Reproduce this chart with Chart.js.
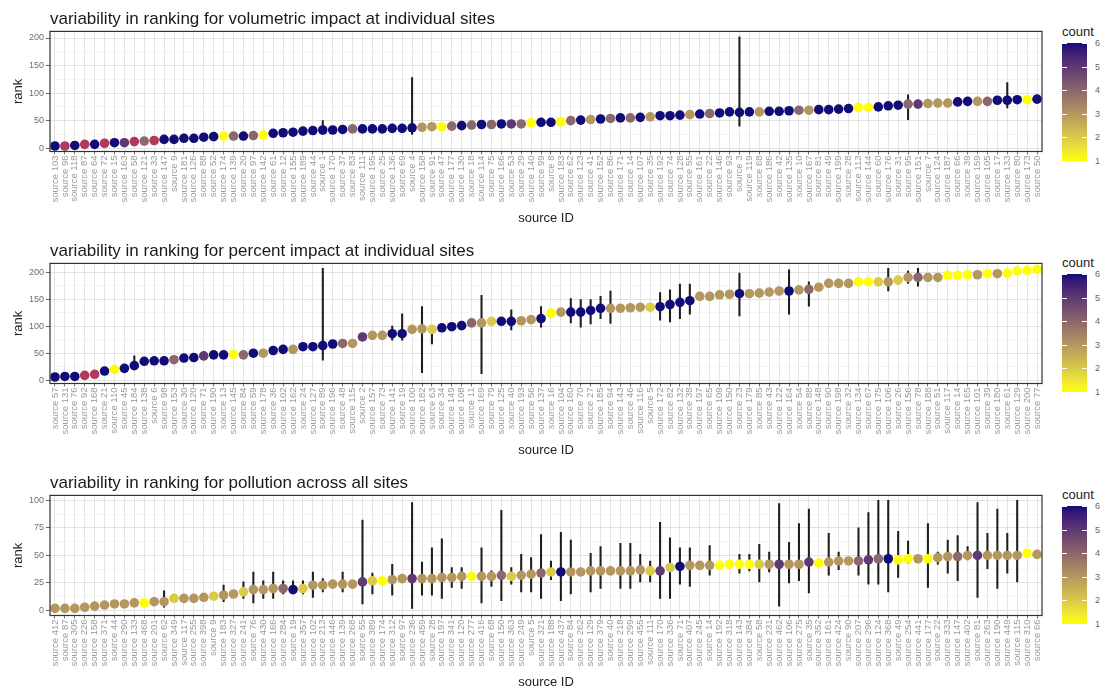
<!DOCTYPE html>
<html>
<head>
<meta charset="utf-8">
<script src="https://cdn.jsdelivr.net/npm/chart.js@4.4.0/dist/chart.umd.min.js"></script>
<style>
  body { margin: 0; background: #fff; width: 1101px; height: 692px; overflow: hidden; position: relative;
         font-family: Arial, "Liberation Sans", sans-serif; }
  canvas { position: absolute; left: 0; }
  .legend { position: absolute; left: 1062px; width: 39px; }
  .legend .ttl { position: absolute; left: 0; top: -19px; font-size: 13px; color: #222; white-space: nowrap; }
  .legend .bar { position: absolute; left: 0; top: 0; width: 25px; height: 118px; }
  .legend .tk { position: absolute; height: 1px; width: 5px; background: #fff; }
  .legend .lb { position: absolute; left: 33px; font-size: 9px; color: #666; line-height: 10px; }
</style>
</head>
<body>
<canvas id="vol" width="1050" height="230" style="top:0px"></canvas>
<canvas id="pct" width="1050" height="230" style="top:232px"></canvas>
<canvas id="pol" width="1050" height="230" style="top:464px"></canvas>
<script>
// ---- data ------------------------------------------------------------
// source ids (x categories), read order left to right
var volIds = [103,96,118,87,64,72,15,163,58,121,33,147,9,181,126,88,52,174,139,20,
              97,142,61,12,155,189,44,1,170,37,83,111,195,25,136,69,4,158,91,47,
              177,130,18,114,75,166,53,29,140,99,8,183,62,123,41,152,86,171,14,107,
              35,192,74,128,55,161,22,146,93,3,119,68,186,42,135,10,167,81,49,199,
              28,113,144,60,176,31,95,151,7,124,187,66,39,159,105,17,133,80,173,50];
var volRank = [4,4,5,7,7,9,10,10,12,13, 14,16,16,18,18,20,21,22,22,22,
               23,24,27,28,29,31,32,33,33,34, 35,35,35,35,36,36,37,38,39,39,
               40,41,42,43,43,44,44,44,46,47, 47,48,50,51,52,53,54,55,55,56,
               57,59,59,60,61,62,63,64,66,65, 66,66,67,67,68,69,69,70,70,71,
               72,74,74,75,77,78,80,80,81,82, 82,84,85,85,85,87,87,88,88,89];
// count 1..6 (0 = the reddish points)
var volCount = [6,0,6,0,6,0,6,5,0,4, 0,6,6,6,6,6,6,1,4,6,
                4,1,6,6,6,6,6,6,6,6, 4,6,6,6,6,6,6,3,3,1,
                4,6,4,6,4,6,5,4,1,6, 6,1,4,6,3,6,4,6,4,6,
                3,6,6,6,3,6,4,6,6,6, 6,3,6,6,6,4,3,6,6,6,
                6,1,1,6,6,6,4,5,3,3, 3,6,6,3,4,6,6,6,1,6];
// min/max rank by point number (1-based)
var volRange = {28:[26,50], 37:[25,128], 70:[40,202], 87:[52,97], 97:[73,119]};
var volTicks = [0,50,100,150,200];

var pctIds = [57,131,76,92,168,21,110,45,184,138,6,98,153,30,120,71,190,13,145,84,
              59,178,36,102,162,24,127,89,196,48,115,2,157,73,141,19,100,182,63,34,
              149,108,11,169,79,125,40,193,56,137,16,104,160,70,27,185,94,143,46,116,
              5,172,82,132,38,197,65,109,150,23,179,85,43,122,164,54,88,148,90,198,
              32,134,67,175,106,26,156,78,188,51,117,14,165,101,39,180,61,129,200,77];
var pctRank = [6,7,7,9,11,17,20,22,27,35, 36,36,38,41,42,45,47,47,48,47,
               50,50,55,57,57,62,62,64,67,68, 68,80,83,83,86,86,94,95,94,97,
               99,101,106,106,109,109,109,110,112,114, 124,126,126,126,129,133,133,133,134,135,
               135,136,140,144,147,155,155,158,159,160, 160,161,163,165,165,167,168,172,179,179,
               179,182,182,182,182,185,190,190,190,190, 194,194,195,195,197,197,198,202,203,205];
var pctCount = [6,6,6,0,0,6,1,6,6,6, 6,6,4,6,6,5,6,6,1,4,
                6,3,6,6,3,6,6,6,6,4, 3,5,3,3,6,6,3,3,2,6,
                6,6,4,3,2,6,6,3,3,6, 1,3,6,6,6,6,3,3,3,3,
                2,6,6,6,6,3,3,3,3,6, 3,3,3,3,6,3,4,3,3,3,
                3,1,1,2,3,2,3,4,3,3, 1,1,1,3,1,3,1,1,1,1];
var pctRange = {9:[20,45], 28:[37,207], 35:[74,100], 36:[74,123], 38:[14,136], 39:[67,99],
                44:[12,157], 47:[93,130], 50:[98,136], 53:[106,151], 54:[98,149], 55:[104,149],
                56:[114,155], 57:[105,165], 62:[111,162], 63:[108,167], 64:[114,178], 65:[122,178],
                70:[119,198], 75:[122,204], 77:[137,182], 85:[165,207], 87:[179,202], 88:[174,207]};
var pctTicks = [0,50,100,150,200];

var polIds = [412,87,305,226,158,371,44,290,133,468,201,62,349,117,255,398,9,183,327,241,
              76,430,166,284,19,357,102,213,446,139,268,55,389,174,312,97,236,459,28,197,
              341,120,277,416,68,150,363,249,5,321,188,437,84,262,129,379,40,218,299,455,
              111,170,336,71,407,245,14,192,318,143,384,58,231,462,106,275,35,352,161,424,
              90,207,296,124,368,49,254,441,177,22,333,147,402,81,263,190,449,115,310,66];
var polRank = [2,2,2,3,4,5,6,6,7,7, 8,8,11,11,11,12,13,14,15,17,
               19,19,20,20,19,20,23,23,24,24, 24,26,27,27,28,29,29,29,29,30,
               30,31,31,31,31,32,31,32,33,34, 35,35,35,35,36,36,36,36,36,37,
               36,36,39,40,41,41,41,41,42,42, 42,42,42,42,42,42,44,43,44,45,
               45,45,46,47,47,46,47,47,47,48, 49,49,50,50,50,50,50,50,52,51];
var polCount = [3,3,3,3,3,3,3,3,3,1, 3,3,2,3,3,3,2,3,3,2,
                3,3,3,4,6,2,3,3,3,3, 3,5,2,1,3,3,5,3,3,3,
                3,3,1,3,3,4,2,3,3,4, 2,6,3,3,3,3,3,3,3,3,
                2,5,2,6,3,3,3,1,1,1, 1,2,3,5,3,3,5,1,3,3,
                3,4,5,4,6,1,1,3,1,3, 3,4,3,5,3,3,3,3,1,3];
var polRange = {6:[3,8], 12:[3,18], 18:[8,23], 20:[11,26], 21:[7,35], 22:[11,27], 23:[11,35],
                24:[15,27], 25:[16,27], 26:[15,27], 27:[12,35], 28:[17,29], 30:[17,35], 32:[6,82],
                33:[15,34], 35:[14,42], 37:[2,98], 38:[14,44], 39:[14,57], 40:[11,65], 41:[21,39],
                42:[20,39], 44:[7,57], 45:[22,36], 46:[9,91], 47:[24,39], 48:[17,51], 49:[17,48],
                50:[11,69], 51:[28,45], 52:[9,71], 53:[15,64], 55:[17,52], 56:[20,58], 58:[20,61],
                59:[20,61], 60:[26,51], 61:[26,45], 62:[11,80], 63:[11,66], 64:[24,57], 65:[22,57],
                67:[32,59], 70:[34,51], 71:[36,51], 72:[26,60], 73:[35,53], 74:[4,97], 75:[25,62],
                76:[27,79], 77:[16,92], 79:[32,70], 80:[37,53], 82:[32,75], 83:[24,89], 84:[24,100],
                85:[17,100], 86:[30,72], 87:[43,63], 89:[21,79], 90:[42,53], 91:[34,64], 92:[27,68],
                93:[46,58], 94:[12,98], 95:[38,70], 96:[20,92], 97:[34,70], 98:[26,100]};
var polTicks = [0,25,50,75,100];

var countLevels = [1,2,3,4,5,6];

// ---- colour scale: yellow -> navy, interpolated in Lab like ggplot ------
function toLab(hex) {
  var c = [1,3,5].map(function(i){ return parseInt(hex.substr(i,2),16)/255; })
                 .map(function(v){ return v <= 0.04045 ? v/12.92 : Math.pow((v+0.055)/1.055, 2.4); });
  var x = (c[0]*0.4124 + c[1]*0.3576 + c[2]*0.1805)/0.95047;
  var y = (c[0]*0.2126 + c[1]*0.7152 + c[2]*0.0722);
  var z = (c[0]*0.0193 + c[1]*0.1192 + c[2]*0.9505)/1.08883;
  var f = function(t){ return t > 0.008856 ? Math.cbrt(t) : 7.787*t + 16/116; };
  return [116*f(y)-16, 500*(f(x)-f(y)), 200*(f(y)-f(z))];
}
function fromLab(lab) {
  var fy = (lab[0]+16)/116, fx = fy + lab[1]/500, fz = fy - lab[2]/200;
  var g = function(t){ return t*t*t > 0.008856 ? t*t*t : (t - 16/116)/7.787; };
  var x = g(fx)*0.95047, y = g(fy), z = g(fz)*1.08883;
  var rgb = [x*3.2406 - y*1.5372 - z*0.4986, -x*0.9689 + y*1.8758 + z*0.0415, x*0.0557 - y*0.2040 + z*1.0570];
  return 'rgb(' + rgb.map(function(v){
    v = v <= 0.0031308 ? 12.92*v : 1.055*Math.pow(v, 1/2.4) - 0.055;
    return Math.round(Math.min(1, Math.max(0, v))*255);
  }).join(',') + ')';
}
var LOW = toLab('#FFFF00'), HIGH = toLab('#120C78');
function countColor(n) {
  if (n === 0) return '#b2385c';
  var t = (n - 1)/5;
  return fromLab([0,1,2].map(function(k){ return LOW[k] + (HIGH[k]-LOW[k])*t; }));
}

// ---- chart -------------------------------------------------------------
var FONT = 'Arial, "Liberation Sans", sans-serif';
Chart.defaults.font.family = FONT;

var frame = {
  id: 'frame',
  afterDatasetsDraw: function(chart) {
    var a = chart.chartArea, ctx = chart.ctx;
    ctx.save();
    ctx.strokeStyle = '#333';
    ctx.lineWidth = 1.2;
    ctx.strokeRect(a.left, a.top, a.right - a.left, a.bottom - a.top);
    ctx.restore();
  }
};

function makePanel(id, title, ids, rank, count, range, ticks, yMin, yMax) {
  var major = ticks[1] - ticks[0];
  var allTicks = [];
  ticks.forEach(function(v, i){ allTicks.push(v); if (i < ticks.length-1) allTicks.push(v + major/2); });
  var isMajor = function(v){ return ticks.indexOf(v) >= 0; };

  new Chart(document.getElementById(id), {
    type: 'bar',
    data: {
      labels: ids.map(function(s){ return 'source ' + s; }),
      datasets: [
        { type: 'line', data: rank, showLine: false, order: 0,
          pointRadius: 4.8, pointHoverRadius: 4.8, pointBorderWidth: 0,
          pointBackgroundColor: count.map(countColor) },
        { type: 'bar', order: 1, data: rank.map(function(r, i){ return range[i+1] || null; }),
          backgroundColor: '#1e1e1e', barThickness: 1.4 }
      ]
    },
    options: {
      responsive: false, animation: false, devicePixelRatio: 1,
      layout: { padding: { left: 0, right: 8, top: 0, bottom: 0 } },
      plugins: {
        legend: { display: false },
        tooltip: { enabled: false },
        title: { display: true, text: title, align: 'start', fullSize: false, color: '#1a1a1a',
                 font: { size: 17, weight: 'normal' }, padding: { top: 9, bottom: 2 } }
      },
      scales: {
        x: {
          offset: true,
          border: { display: false },
          grid: { offset: false, color: '#e4e4e4', lineWidth: 1, tickColor: '#777', tickLength: 3 },
          ticks: { autoSkip: false, minRotation: 90, maxRotation: 90, padding: 1,
                   font: { size: 9.5 }, color: '#9a9a9a' },
          title: { display: true, text: 'source ID', color: '#222', font: { size: 13 },
                   padding: { top: 0, bottom: 4 } },
          afterFit: function(s){ s.height = 78.5; }
        },
        y: {
          min: yMin, max: yMax,
          border: { display: false },
          afterBuildTicks: function(s){ s.ticks = allTicks.map(function(v){ return { value: v }; }); },
          grid: {
            color: function(c){ return isMajor(c.tick.value) ? '#e2e2e2' : '#f0f0f0'; },
            lineWidth: function(c){ return isMajor(c.tick.value) ? 1 : 0.7; },
            tickColor: function(c){ return isMajor(c.tick.value) ? '#666' : 'rgba(0,0,0,0)'; },
            tickLength: 4
          },
          ticks: { padding: 2, color: '#6e6e6e', font: { size: 9 },
                   callback: function(v){ return isMajor(v) ? v : ''; } },
          title: { display: true, text: 'rank', color: '#222', font: { size: 13 },
                   padding: { top: 11, bottom: 0 } },
          afterFit: function(s){ s.width = 50; }
        }
      }
    },
    plugins: [frame]
  });
}

makePanel('vol', 'variability in ranking for volumetric impact at individual sites',
          volIds, volRank, volCount, volRange, volTicks, -6, 212);
makePanel('pct', 'variability in ranking for percent impact at individual sites',
          pctIds, pctRank, pctCount, pctRange, pctTicks, -6, 216);
makePanel('pol', 'variability in ranking for pollution across all sites',
          polIds, polRank, polCount, polRange, polTicks, -4.5, 104.5);

// ---- colour bar legends -----------------------------------------------
function makeLegend(top) {
  var d = document.createElement('div');
  d.className = 'legend';
  d.style.top = top + 'px';
  var stops = [];
  for (var v = 1; v <= 6; v += 0.25) stops.push(countColor(v) + ' ' + ((v-1)/5*100).toFixed(1) + '%');
  var html = '<div class="ttl">count</div><div class="bar" style="background:linear-gradient(to top,' +
             stops.join(',') + ')"></div>';
  countLevels.forEach(function(n){
    var y = (6 - n)/5*118;
    html += '<div class="tk" style="left:0;top:' + y.toFixed(1) + 'px"></div>';
    html += '<div class="tk" style="left:20px;top:' + y.toFixed(1) + 'px"></div>';
    html += '<div class="lb" style="top:' + (y-5).toFixed(1) + 'px">' + n + '</div>';
  });
  d.innerHTML = html;
  document.body.appendChild(d);
}
makeLegend(43);
makeLegend(274);
makeLegend(506);
</script>
</body>
</html>
